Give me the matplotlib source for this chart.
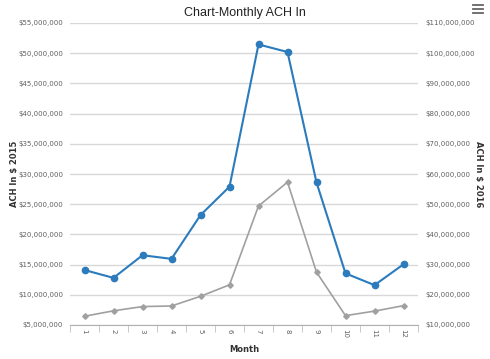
import numpy as np
import matplotlib
matplotlib.use("Agg")
import matplotlib.pyplot as plt
from matplotlib.ticker import FuncFormatter

# dados
meses = [1, 2, 3, 4, 5, 6, 7, 8, 9, 10, 11, 12]
rotulos_meses = [str(m) for m in meses]
ach_2015 = [14.1, 12.8, 16.55, 15.95, 23.2, 27.9, 51.45, 50.2, 28.6, 13.55, 11.6, 15.05]  # milhoes
ach_2016 = [12.9, 14.7, 16.1, 16.3, 19.5, 23.3, 49.4, 57.3, 27.5, 13.1, 14.6, 16.4]  # milhoes

esq_ticks = [5, 10, 15, 20, 25, 30, 35, 40, 45, 50, 55]
dir_ticks = [10, 20, 30, 40, 50, 60, 70, 80, 90, 100, 110]

cor_azul = '#2b7bbd'
cor_cinza = '#a0a0a0'
cor_texto = '#606060'
cor_grade = '#d8d8d8'

fig = plt.figure(figsize=(4.9, 3.59), dpi=100)
ax = fig.add_axes([70/490, 1-325/359, 348/490, 302/359])
ax2 = ax.twinx()

def dinheiro(v, pos):
    return '${:,.0f}'.format(v * 1e6)

# grade horizontal
for t in esq_ticks:
    ax.axhline(t, color=cor_grade, lw=1, zorder=0)

x = np.array(meses)
ax.plot(x, ach_2015, color=cor_azul, lw=1.5, marker='o', ms=4.5, zorder=3)
ax2.plot(x, ach_2016, color=cor_cinza, lw=1.2, marker='D', ms=2.8, zorder=3)

ax.set_xlim(0.5, 12.5)
ax.set_ylim(5, 55)
ax2.set_ylim(10, 110)
ax.set_yticks(esq_ticks)
ax2.set_yticks(dir_ticks)
ax.yaxis.set_major_formatter(FuncFormatter(dinheiro))
ax2.yaxis.set_major_formatter(FuncFormatter(dinheiro))

ax.set_xticks(x)
ax.set_xticklabels(rotulos_meses, rotation=-90, fontsize=5, color=cor_texto)
ax.set_xticks(np.arange(0.5, 13, 1), minor=True)
ax.tick_params(axis='x', which='major', length=0, pad=3)
ax.tick_params(axis='x', which='minor', length=5, color='#c0c0c0', direction='out')
ax.tick_params(axis='y', length=0, labelsize=5, labelcolor=cor_texto, pad=5)
ax2.tick_params(axis='y', length=0, labelsize=5, labelcolor=cor_texto, pad=5)

for a in (ax, ax2):
    for s in a.spines.values():
        s.set_visible(False)
ax.spines['bottom'].set_visible(True)
ax.spines['bottom'].set_color('#b0b0b0')

# rotulos dos eixos
fig.text(14/490, 1-174/359, 'ACH In $ 2015', rotation=90, ha='center', va='center',
         fontsize=6, fontweight='bold', color='#333333')
fig.text(478/490, 1-174/359, 'ACH In $ 2016', rotation=-90, ha='center', va='center',
         fontsize=6, fontweight='bold', color='#333333')
fig.text(244/490, 1-349/359, 'Month', ha='center', va='center',
         fontsize=6, fontweight='bold', color='#333333')

fig.text(0.5, 1-13/359, 'Chart-Monthly ACH In', ha='center', va='center',
         fontsize=9, color='#222222', family='Liberation Sans')

# icone de menu
for yy in (5, 9, 13):
    fig.add_artist(plt.Line2D([473/490, 483/490], [1-yy/359, 1-yy/359], color='#666666', lw=1.3))

fig.savefig('out.png', dpi=100)
